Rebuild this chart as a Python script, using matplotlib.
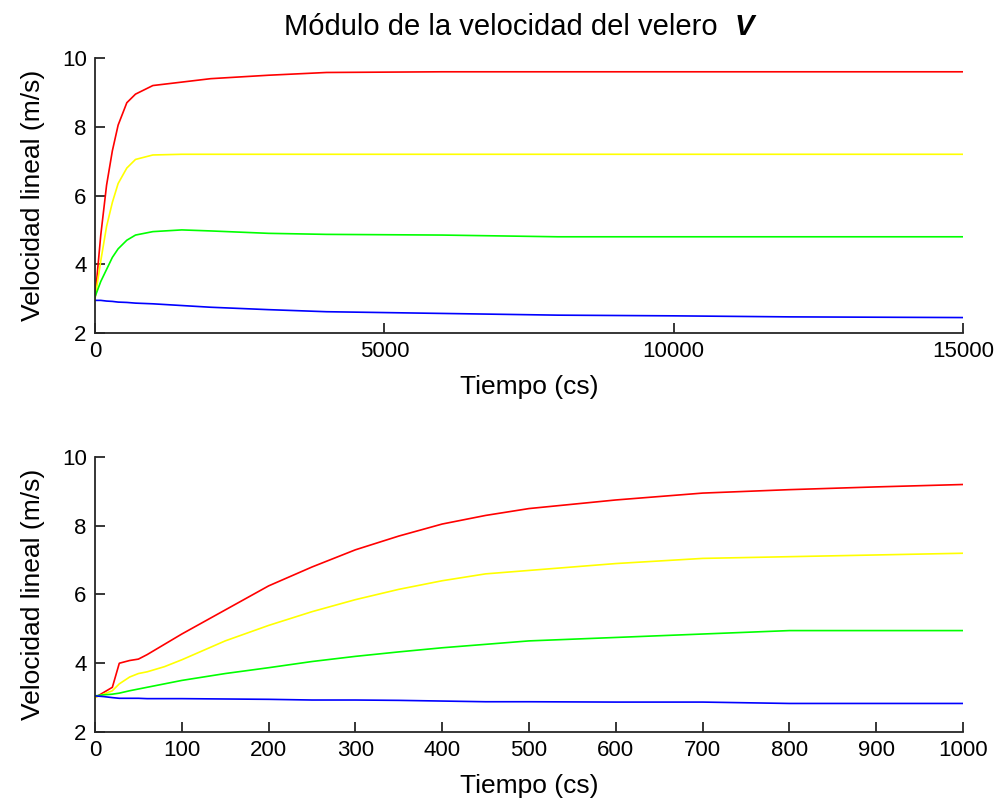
import matplotlib
matplotlib.use("Agg")
import matplotlib.pyplot as plt

plt.rcParams['font.family'] = ['Liberation Sans', 'DejaVu Sans']

# Top panel: long time range (cs)
t_long = [0, 100, 200, 300, 400, 550, 700, 1000, 1500, 2000, 3000, 4000, 6000, 8000, 10000, 12000, 15000]
red_long = [3.0, 4.85, 6.3, 7.3, 8.05, 8.7, 8.95, 9.2, 9.3, 9.4, 9.5, 9.58, 9.6, 9.6, 9.6, 9.6, 9.6]
yellow_long = [3.0, 4.1, 5.1, 5.8, 6.35, 6.8, 7.05, 7.18, 7.2, 7.2, 7.2, 7.2, 7.2, 7.2, 7.2, 7.2, 7.2]
green_long = [3.05, 3.5, 3.85, 4.2, 4.45, 4.7, 4.85, 4.95, 5.0, 4.97, 4.9, 4.87, 4.85, 4.8, 4.8, 4.8, 4.8]
blue_long = [2.95, 2.95, 2.93, 2.92, 2.9, 2.89, 2.87, 2.85, 2.8, 2.75, 2.68, 2.62, 2.57, 2.52, 2.5, 2.47, 2.45]

# Bottom panel: first 1000 cs
t_short = [0, 10, 20, 28, 40, 50, 60, 80, 100, 150, 200, 250, 300, 350, 400, 450, 500, 600, 700, 800, 900, 1000]
red_short = [3.0, 3.15, 3.3, 4.0, 4.08, 4.12, 4.25, 4.55, 4.85, 5.55, 6.25, 6.8, 7.3, 7.7, 8.05, 8.3, 8.5, 8.75, 8.95, 9.05, 9.13, 9.2]
yellow_short = [3.0, 3.1, 3.2, 3.4, 3.6, 3.7, 3.75, 3.9, 4.1, 4.65, 5.1, 5.5, 5.85, 6.15, 6.4, 6.6, 6.7, 6.9, 7.05, 7.1, 7.15, 7.2]
green_short = [3.05, 3.08, 3.1, 3.13, 3.2, 3.25, 3.3, 3.4, 3.5, 3.7, 3.87, 4.05, 4.2, 4.33, 4.45, 4.55, 4.65, 4.75, 4.85, 4.95, 4.95, 4.95]
blue_short = [3.05, 3.03, 3.0, 2.98, 2.98, 2.98, 2.97, 2.97, 2.97, 2.96, 2.95, 2.93, 2.93, 2.92, 2.9, 2.88, 2.88, 2.87, 2.87, 2.83, 2.83, 2.83]

colors = ['#ff0000', '#ffff00', '#00ff00', '#0000ff']

fig = plt.figure(figsize=(10.02, 8.05), dpi=100)
ax1 = fig.add_axes([0.0948, 0.5863, 0.8663, 0.3416])
ax2 = fig.add_axes([0.0948, 0.0907, 0.8663, 0.3416])

for ax, t, series, xmax, xticks in [
    (ax1, t_long, [red_long, yellow_long, green_long, blue_long], 15000, [0, 5000, 10000, 15000]),
    (ax2, t_short, [red_short, yellow_short, green_short, blue_short], 1000, list(range(0, 1001, 100))),
]:
    for y, c in zip(series, colors):
        ax.plot(t, y, color=c, lw=1.2)
    ax.set_xlim(0, xmax)
    ax.set_ylim(2, 10)
    ax.set_xticks(xticks)
    ax.set_xticklabels([str(v) for v in xticks])
    ax.set_yticks([2, 4, 6, 8, 10])
    ax.spines['top'].set_visible(False)
    ax.spines['right'].set_visible(False)
    for s in ['left', 'bottom']:
        ax.spines[s].set_linewidth(1.3)
        ax.spines[s].set_color('#262626')
    ax.tick_params(direction='in', length=7, width=1.3, color='#262626', labelsize=16, pad=6)
    ax.set_xlabel('Tiempo (cs)', fontsize=19, labelpad=9)
    ax.set_ylabel('Velocidad lineal (m/s)', fontsize=19, labelpad=12)

fig.text(0.716, 0.966, 'Módulo de la velocidad del velero', ha='right', va='center', fontsize=21)
fig.text(0.733, 0.966, 'V', ha='left', va='center', fontsize=21, fontweight='bold', fontstyle='italic')

fig.savefig('out.png', dpi=100)
